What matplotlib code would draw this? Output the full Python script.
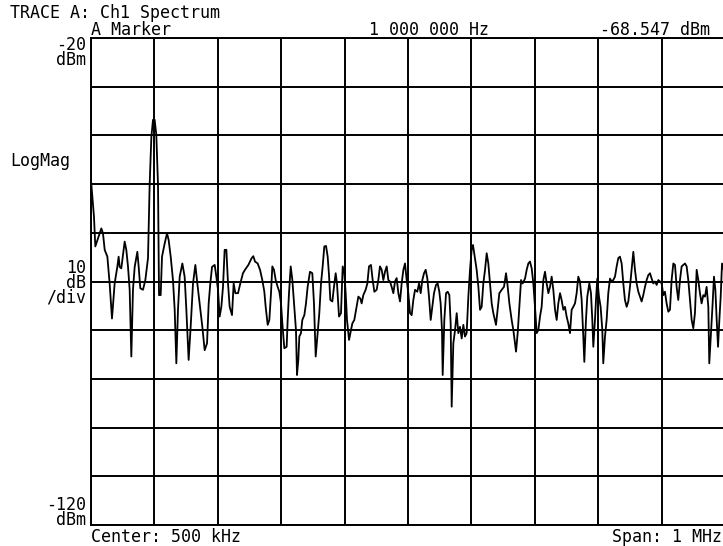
import matplotlib.pyplot as plt

# ----------- Trace A: Ch1 Spectrum (kHz, dBm) -------------------
seg1_freq = [0, 4.7, 6.8, 16.3, 18.9, 21.6, 25.8, 29.4, 33.1, 37.3, 41.5, 43.6, 45.2, 47.8, 53.1,
             55.7, 58.4, 61.0, 63.6, 66.2, 68.9, 73.1, 75.2, 77.8, 82.0, 85.7, 89.9, 92.5, 95.2,
             97.8, 100.4, 103.0, 105.7, 107.3, 109.9, 112.0, 116.2, 119.9, 122.5, 125.7, 129.3,
             132.0, 134.6, 137.2, 139.9, 144.1, 147.7, 150.4, 154.0, 157.2, 160.9, 164.6, 167.7,
             171.4, 175.6, 179.3, 183.0, 185.6, 188.2, 190.9, 195.1, 197.7, 200.3, 202.9, 205.6,
             208.2, 210.8, 213.5, 216.1, 218.7, 222.4, 225.0, 227.7, 231.9, 235.5, 239.7]
seg1_level = [-49.2, -56.7, -62.8, -59.1, -60.1, -63.5, -64.9, -70.4, -77.6, -70.4, -67.0, -64.9,
              -67.0, -67.3, -61.8, -63.5, -67.0, -71.7, -85.4, -71.7, -67.0, -63.9, -67.0, -71.4,
              -71.7, -69.7, -65.2, -50.2, -40.3, -36.8, -36.8, -39.9, -50.2, -72.8, -72.8, -64.9,
              -62.2, -60.1, -61.5, -64.9, -69.7, -75.8, -86.8, -75.8, -69.0, -66.3, -69.0, -75.8,
              -86.1, -79.3, -70.4, -66.6, -70.4, -74.5, -79.3, -84.1, -82.7, -74.5, -70.4, -67.0,
              -66.6, -69.0, -71.7, -77.2, -75.2, -71.1, -63.5, -63.5, -70.4, -75.2, -76.9, -70.4,
              -72.4, -72.4, -70.4, -68.3]

seg2_freq = [242.9, 248.2, 253.4, 256.0, 258.7, 262.9, 266.6, 270.2, 273.4, 275.5, 278.7, 281.3,
             283.9, 286.0, 288.6, 291.3, 294.4, 297.1, 299.7, 301.8, 304.9, 308.6, 310.2, 312.3,
             315.0, 317.6, 320.7, 323.3, 324.9, 327.0, 328.6, 331.2, 333.3, 336.5, 339.1, 341.7,
             345.4, 349.1, 351.7, 354.4, 357.5, 360.1, 362.8, 365.4, 368.0, 370.7, 373.3, 375.4,
             377.5, 380.7, 382.7, 385.9, 388.0, 391.2, 394.3, 397.0, 399.6, 401.7, 403.8, 407.0,
             410.1, 412.2, 415.3, 419.0, 421.7, 424.8, 426.9, 429.5, 433.2, 435.9, 438.5, 441.6,
             444.3, 446.9, 450.6, 453.2, 455.8, 458.5, 461.1, 463.7, 466.4, 469.0, 471.6, 474.2,
             476.9, 479.5, 482.1, 484.8, 487.4]
seg2_level = [-67.6, -66.6, -65.2, -64.8, -65.9, -66.3, -67.6, -69.7, -72.1, -75.2, -78.9, -77.9,
              -72.4, -66.9, -67.6, -69.7, -71.1, -72.1, -74.5, -78.6, -83.7, -83.4, -77.9, -72.4,
              -66.9, -69.7, -75.2, -80.0, -89.2, -86.1, -81.3, -80.6, -77.9, -76.9, -74.5, -71.1,
              -68.0, -68.3, -74.5, -85.4, -80.6, -76.5, -70.4, -66.9, -62.8, -62.7, -64.9, -68.7,
              -73.8, -74.1, -71.7, -68.3, -70.4, -77.2, -76.5, -66.9, -68.3, -72.4, -77.9, -82.0,
              -80.0, -78.6, -77.9, -75.2, -73.1, -73.5, -74.5, -72.8, -71.7, -70.4, -66.9, -66.6,
              -69.7, -72.1, -71.7, -69.7, -66.9, -67.6, -69.7, -68.0, -66.9, -69.7, -70.0, -71.1,
              -72.4, -70.0, -69.3, -72.4, -74.1]

seg3_freq = [490.0, 492.7, 495.3, 497.9, 500.5, 503.2, 505.8, 508.4, 511.1, 514.7, 517.4, 520.0,
             522.6, 525.3, 527.9, 530.5, 533.1, 535.8, 538.4, 541.0, 544.2, 546.8, 549.4, 551.5,
             553.6, 554.7, 557.3, 560.0, 562.6, 565.2, 567.3, 568.9, 571.5, 574.2, 576.8, 579.4,
             582.0, 584.7, 587.3, 589.9, 592.5, 595.2, 597.8, 600.4, 602.5, 605.2, 608.3, 611.0,
             613.6, 616.2, 618.8, 621.5, 624.1, 626.7, 629.4, 632.0, 634.6, 638.8, 641.4, 644.1,
             647.8, 651.4, 654.6, 656.7, 659.9, 663.5, 666.2, 670.4, 673.0, 675.6, 678.3, 680.9,
             684.6, 687.2, 689.8, 692.4, 695.1, 697.7, 700.3, 703.0, 705.6, 708.2, 710.8, 713.5,
             716.1, 718.7, 721.4, 724.0, 726.6, 729.2, 731.9, 734.5, 737.1, 739.8]
seg3_level = [-70.4, -67.6, -66.3, -69.7, -72.4, -76.5, -76.9, -73.8, -71.7, -72.1, -70.4, -72.4,
              -69.7, -68.3, -67.6, -69.4, -73.1, -77.9, -75.2, -72.4, -70.7, -70.4, -72.1, -74.5,
              -80.0, -89.2, -77.9, -72.4, -72.1, -72.8, -78.6, -95.7, -82.7, -80.0, -76.5, -80.6,
              -79.3, -81.7, -78.9, -81.3, -80.6, -73.1, -67.6, -63.5, -62.5, -64.9, -67.6, -71.1,
              -75.8, -75.2, -70.4, -67.6, -64.2, -66.3, -70.4, -74.5, -76.5, -78.9, -75.8, -72.4,
              -71.7, -71.1, -68.3, -70.4, -74.5, -77.9, -80.0, -84.4, -80.6, -75.2, -69.7, -70.4,
              -69.4, -67.6, -66.3, -65.9, -67.3, -70.4, -75.2, -80.6, -80.0, -77.2, -75.2, -69.7,
              -68.0, -70.4, -72.4, -71.1, -69.0, -71.7, -75.8, -77.9, -74.5, -72.4]

seg4_freq = [742.3, 745.0, 747.6, 750.2, 752.8, 755.5, 758.1, 760.7, 763.4, 766.0, 768.6, 771.2,
             773.9, 776.5, 778.1, 780.7, 782.8, 786.0, 788.6, 790.7, 792.3, 794.9, 796.5, 798.6,
             801.2, 803.8, 806.5, 808.0, 810.7, 813.3, 815.9, 818.6, 821.2, 823.8, 826.5, 829.1,
             831.7, 834.3, 837.0, 839.6, 842.2, 844.9, 847.5, 850.1, 852.7, 855.4, 858.0, 860.6,
             863.3, 865.9, 868.5, 871.1, 873.8, 876.4, 879.0, 881.7, 884.3, 886.9, 889.5, 892.2,
             894.8, 897.4, 900.1, 902.7, 905.3, 907.9, 910.6, 913.2, 915.8, 918.5, 921.1, 923.7,
             926.3, 929.0, 931.6, 934.2, 936.9, 939.5, 942.1, 944.7, 947.4, 950.0, 952.6, 955.3,
             957.9, 960.5, 963.1, 965.8, 968.4, 971.0, 973.7, 975.2, 977.9, 980.5, 982.6, 984.8,
             986.9, 989.0, 991.1, 993.2, 995.3, 1000.0]
seg4_level = [-73.8, -75.8, -75.2, -77.2, -78.6, -80.6, -75.8, -75.2, -74.5, -72.4, -69.0, -70.0,
              -73.8, -81.3, -86.5, -77.9, -73.1, -70.4, -72.4, -77.9, -83.4, -77.9, -73.8, -69.4,
              -73.1, -75.2, -80.0, -86.8, -81.3, -77.9, -72.4, -69.4, -70.0, -69.7, -69.0, -66.9,
              -65.2, -64.9, -66.3, -70.4, -73.8, -75.2, -74.1, -71.1, -67.6, -63.9, -67.6, -70.4,
              -72.1, -73.1, -74.1, -72.8, -71.1, -69.7, -68.7, -68.3, -69.4, -70.4, -70.0, -70.7,
              -69.7, -70.0, -70.4, -72.8, -72.1, -74.5, -76.2, -75.8, -69.7, -66.3, -66.6, -71.1,
              -73.8, -69.7, -66.9, -66.6, -66.3, -66.9, -69.7, -73.8, -77.9, -79.6, -76.5, -67.6,
              -69.7, -72.4, -74.5, -72.8, -73.1, -71.1, -75.2, -86.8, -80.6, -74.5, -69.0, -71.7,
              -77.9, -83.4, -77.9, -73.1, -66.3, -68.5]

freq_khz = seg1_freq + seg2_freq + seg3_freq + seg4_freq
level_dbm = seg1_level + seg2_level + seg3_level + seg4_level

REF_LEVEL = -20      # top of screen, dBm
BOTTOM_LEVEL = -120  # bottom of screen, dBm
DB_PER_DIV = 10
SPAN_KHZ = 1000

W, H = 723, 546
FONT = "DejaVu Sans Mono"
FS = 12


def txt(x, y, s, ha="left", va="baseline", **kw):
    # x, y in screen pixels (top-left origin)
    fig.text(x / W, 1 - y / H, s, ha=ha, va=va, fontsize=FS, family=FONT,
             color="black", **kw)


# ----------- Plot -------------------
fig = plt.figure(figsize=(W / 100, H / 100), dpi=100)
ax = fig.add_axes([91 / W, 21 / H, 634 / W, 487 / H])
ax.plot(freq_khz, level_dbm, color="black", lw=1.3)

ax.set_xlim(0, SPAN_KHZ)
ax.set_ylim(BOTTOM_LEVEL, REF_LEVEL)
ax.set_xticks(range(0, SPAN_KHZ + 1, 100))
ax.set_yticks(range(BOTTOM_LEVEL, REF_LEVEL + 1, DB_PER_DIV))
ax.grid(True, color="black", lw=1.4)
ax.tick_params(length=0, labelbottom=False, labelleft=False)
for s in ax.spines.values():
    s.set_linewidth(1.4)

# ----------- Screen annotations -------------------
txt(10, 18, "TRACE A: Ch1 Spectrum")
txt(91, 35, "A Marker")
txt(369, 35, "1 000 000 Hz")
txt(600, 35, "-68.547 dBm")

stack = dict(ha="right", va="top", multialignment="right", linespacing=0.78)
txt(86, 36, "-20\ndBm", **stack)
txt(10, 166, "LogMag")
txt(86, 259, "10\ndB\n/div", **stack)
txt(86, 496, "-120\ndBm", **stack)

txt(91, 542, "Center: 500 kHz")
txt(722, 542, "Span: 1 MHz", ha="right")

fig.savefig("out.png", dpi=100)
